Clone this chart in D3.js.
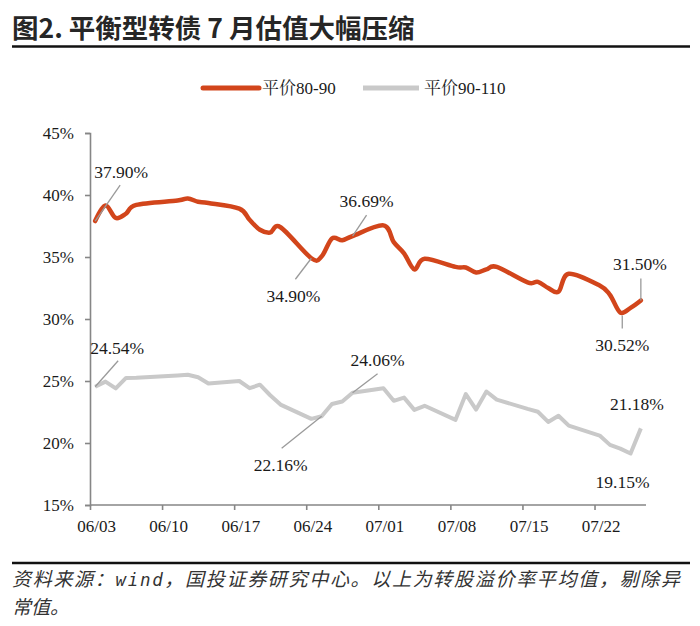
<!DOCTYPE html>
<html><head><meta charset="utf-8">
<script src="https://cdn.jsdelivr.net/npm/d3@7/dist/d3.min.js"></script>
<style>
html,body{margin:0;padding:0;background:#fff;}
svg{display:block;}
</style></head>
<body>
<svg id="chart" width="700" height="626"></svg>
<script>
// ---------- data ----------
const title = "图2. 平衡型转债 7 月估值大幅压缩";
const seriesNames = ["平价80-90", "平价90-110"];
const dates = ["06/03","06/04","06/05","06/06","06/07","06/11","06/12","06/13","06/14",
  "06/17","06/18","06/19","06/20","06/21","06/24","06/25","06/26","06/27","06/28",
  "07/01","07/02","07/03","07/04","07/05","07/08","07/09","07/10","07/11","07/12",
  "07/15","07/16","07/17","07/18","07/19","07/22","07/23","07/24","07/25","07/26"];
const parity80_90 = [37.90,39.15,38.15,38.50,39.20,39.55,39.72,39.45,39.35,
  38.90,38.00,37.20,36.97,37.40,34.90,35.05,36.50,36.35,36.69,
  37.55,36.20,35.30,34.00,34.85,34.20,34.15,33.75,34.00,34.20,
  32.95,33.00,32.50,32.20,33.65,32.70,31.95,30.52,30.90,31.50];
const parity90_110 = [24.54,24.95,24.40,25.25,25.27,25.45,25.50,25.30,24.80,
  25.00,24.42,24.70,23.85,23.10,21.95,22.16,23.15,23.35,24.06,
  24.42,23.40,23.66,22.67,23.00,21.87,23.95,22.70,24.15,23.50,
  22.75,22.52,21.70,22.20,21.40,20.60,19.85,19.55,19.15,21.18];
const xTickLabels = ["06/03","06/10","06/17","06/24","07/01","07/08","07/15","07/22"];
const yTicks = [15,20,25,30,35,40,45];
// data labels: [series index, date, value text]
const dataLabels = [
  [0,"06/03","37.90%"],[0,"06/24","34.90%"],[0,"06/28","36.69%"],[0,"07/24","30.52%"],[0,"07/26","31.50%"],
  [1,"06/03","24.54%"],[1,"06/25","22.16%"],[1,"06/28","24.06%"],[1,"07/25","19.15%"],[1,"07/26","21.18%"]
];
const footer1 = ["资料来源：", "wind", "，国投证券研究中心。以上为转股溢价率平均值，剔除异"];
const footer2 = "常值。";

// ---------- layout / style ----------
const colors = ["#D2451B", "#C9C9C9"];
const serif = "'Liberation Serif','Tinos','Nimbus Roman','Times New Roman','DejaVu Serif',serif";
const cjk = "'Noto Sans CJK SC',sans-serif";
const plot = {left: 90, right: 646, top: 133, bottom: 505};
const YEAR = 2024;
const DAY = 864e5;
const toDate = s => { const [m,d] = s.split("/").map(Number); return new Date(Date.UTC(YEAR, m-1, d)); };

const svg = d3.select("#chart");

// title + rules
svg.append("text").attr("x", 12).attr("y", 38)
  .attr("font-family", cjk).attr("font-weight", 700).attr("font-size", 26.5)
  .attr("fill", "#262626").text(title);
svg.append("line").attr("x1", 12).attr("x2", 690).attr("y1", 46.5).attr("y2", 46.5)
  .attr("stroke", "#111").attr("stroke-width", 2.5);
svg.append("line").attr("x1", 12).attr("x2", 690).attr("y1", 563).attr("y2", 563)
  .attr("stroke", "#111").attr("stroke-width", 2.5);

// scales
const x = d3.scaleUtc()
  .domain([toDate("06/03"), new Date(toDate("07/26").getTime() + DAY)])
  .range([plot.left, plot.right]);
const halfDay = x(new Date(toDate("06/03").getTime() + DAY/2)) - x(toDate("06/03"));
const y = d3.scaleLinear().domain([15, 45]).range([plot.bottom, plot.top]);
const px = s => x(toDate(s)) + halfDay;

// axes
const yAxis = svg.append("g").attr("transform", `translate(${plot.left},0)`)
  .call(d3.axisLeft(y).tickValues(yTicks).tickFormat(d => d + "%").tickSize(5).tickPadding(11));
const xAxis = svg.append("g").attr("transform", `translate(0,${plot.bottom})`)
  .call(d3.axisBottom(x).tickValues(xTickLabels.map(toDate)).tickFormat(d3.utcFormat("%m/%d")).tickSize(5).tickPadding(10));
xAxis.select(".domain").attr("d", `M${plot.left},0H${plot.right}`);
xAxis.selectAll(".tick text").attr("dx", halfDay + 1);
[xAxis, yAxis].forEach(g => {
  g.select(".domain").attr("stroke", "#868686").attr("stroke-width", 1.6);
  g.selectAll(".tick line").attr("stroke", "#868686").attr("stroke-width", 1.6);
  g.selectAll(".tick text").style("font-family", serif).style("font-size", "17px").attr("fill", "#1a1a1a");
});

// lines
const series = [parity80_90, parity90_110];
const lineSmooth = d3.line().x((d,i) => px(dates[i])).y(d => y(d)).curve(d3.curveCardinal.tension(0));
const lineStraight = d3.line().x((d,i) => px(dates[i])).y(d => y(d));
svg.append("path").datum(parity90_110).attr("d", lineStraight)
  .attr("fill", "none").attr("stroke", colors[1]).attr("stroke-width", 4).attr("stroke-linejoin", "round");
svg.append("path").datum(parity80_90).attr("d", lineSmooth)
  .attr("fill", "none").attr("stroke", colors[0]).attr("stroke-width", 4.5).attr("stroke-linecap", "round").attr("stroke-linejoin", "round");

// data labels (offsets are label placement relative to the point)
const labelOffsets = {
  "0-06/03": {tx: 26, ty: -43, lx: 25, ly: -36},
  "0-06/24": {tx: -18, ty: 44, lx: -16, ly: 21},
  "0-06/28": {tx: 14, ty: -29, lx: 14, ly: -21},
  "0-07/24": {tx: 2, ty: 38, lx: 2, ly: 16, lx0: 2, ly0: 3},
  "0-07/26": {tx: -1, ty: -30, lx: 0, ly: -22},
  "1-06/03": {tx: 22, ty: -33, lx: 23, ly: -26},
  "1-06/25": {tx: -41, ty: 55, lx: -40, ly: 32},
  "1-06/28": {tx: 25, ty: -27, lx: 25, ly: -19},
  "1-07/25": {tx: -8, ty: 34},
  "1-07/26": {tx: -4, ty: -18}
};
dataLabels.forEach(([si, ds, txt]) => {
  const i = dates.indexOf(ds);
  const cx = px(ds), cy = y(series[si][i]);
  const o = labelOffsets[si + "-" + ds];
  if (o.lx !== undefined) {
    svg.append("line").attr("x1", cx + (o.lx0||0)).attr("y1", cy + (o.ly0||0))
      .attr("x2", cx + o.lx).attr("y2", cy + o.ly)
      .attr("stroke", "#9a9a9a").attr("stroke-width", 1.3);
  }
  svg.append("text").attr("x", cx + o.tx).attr("y", cy + o.ty)
    .attr("text-anchor", "middle").style("font-family", serif).style("font-size", "17.5px")
    .attr("fill", "#1a1a1a").text(txt);
});

// legend
const legend = [{x0: 203, tx: 262}, {x0: 363, tx: 424}];
legend.forEach((l, i) => {
  svg.append("line").attr("x1", l.x0).attr("x2", l.x0 + 56).attr("y1", 88).attr("y2", 88)
    .attr("stroke", colors[i]).attr("stroke-width", 5).attr("stroke-linecap", i === 0 ? "round" : "butt");
  svg.append("text").attr("x", l.tx).attr("y", 94)
    .style("font-family", serif.replace(",serif", ",'Noto Serif CJK SC','Noto Sans CJK SC',serif")).style("font-size", "17px").attr("fill", "#1a1a1a")
    .text(seriesNames[i]);
});

// footer
const ft = svg.append("text").attr("x", 12).attr("y", 586)
  .attr("font-family", cjk).attr("font-style", "italic").attr("font-size", 19).attr("fill", "#333")
  .attr("textLength", 668).attr("lengthAdjust", "spacing");
ft.append("tspan").text(footer1[0]);
ft.append("tspan").attr("font-family", "'DejaVu Sans Mono',monospace").attr("font-size", 17.5).text(footer1[1]);
ft.append("tspan").text(footer1[2]);
svg.append("text").attr("x", 12).attr("y", 614)
  .attr("font-family", cjk).attr("font-style", "italic").attr("font-size", 19).attr("fill", "#333")
  .text(footer2);
</script>
</body></html>
